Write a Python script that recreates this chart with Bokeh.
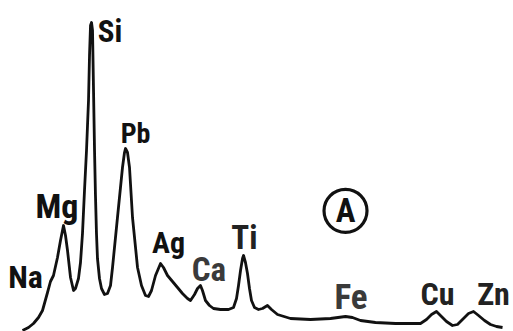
from bokeh.plotting import figure
from bokeh.models import Range1d, ColumnDataSource
from bokeh.core.properties import value
from bokeh.embed import file_html
from bokeh.resources import INLINE

# EDS spectrum: energy (keV) vs intensity (counts, arbitrary)
energy_kev = [0.532, 0.640, 0.729, 0.819, 0.891, 0.981, 1.034, 1.088, 1.160, 1.214,
              1.268, 1.304, 1.340, 1.394, 1.448, 1.483, 1.537, 1.573, 1.609, 1.645,
              1.681, 1.699, 1.717, 1.735, 1.753, 1.771, 1.789, 1.807, 1.825, 1.842,
              1.860, 1.878, 1.914, 1.950, 2.004, 2.058, 2.112, 2.148, 2.237, 2.327,
              2.363, 2.381, 2.417, 2.453, 2.507, 2.597, 2.668, 2.740, 2.794, 2.848,
              2.920, 3.010, 3.063, 3.135, 3.225, 3.315, 3.404, 3.494, 3.548, 3.620,
              3.674, 3.727, 3.763, 3.817, 3.889, 3.961, 4.086, 4.230, 4.320, 4.374,
              4.410, 4.446, 4.482, 4.500, 4.535, 4.571, 4.607, 4.643, 4.697, 4.769,
              4.841, 4.930, 5.002, 5.110, 5.343, 5.702, 6.061, 6.331, 6.456, 6.600,
              6.869, 7.228, 7.677, 7.785, 7.875, 7.964, 8.054, 8.144, 8.251, 8.341,
              8.449, 8.539, 8.629, 8.719, 8.826, 8.934, 9.042, 9.150]
counts = [3, 12, 24, 42, 63, 117, 150, 168, 222, 273,
          318, 288, 243, 162, 123, 129, 159, 207, 294, 423,
          543, 618, 693, 828, 918, 927, 903, 723, 543, 408,
          294, 219, 159, 129, 111, 114, 138, 192, 342, 492,
          537, 549, 537, 492, 342, 192, 138, 108, 105, 123,
          168, 204, 192, 168, 150, 132, 114, 99, 93, 111,
          129, 138, 123, 93, 78, 69, 66, 66, 72, 99,
          138, 183, 219, 228, 207, 174, 129, 93, 72, 66,
          69, 78, 66, 51, 39, 36, 39, 45, 42, 33,
          27, 24, 24, 36, 51, 60, 45, 30, 18, 21,
          39, 54, 60, 48, 33, 21, 15, 12]

# Element labels
elements = ["Na", "Mg", "Si", "Pb", "Ag", "Ca", "Ti", "Fe", "Cu", "Zn"]
label_kev = [0.586, 1.151, 2.103, 2.561, 3.153, 3.880, 4.517, 6.429, 7.982, 8.988]
label_counts = [164, 378, 900, 594, 267, 185, 281, 101, 113, 113]
label_sizes = ["32px", "34px", "31px", "28px", "30px", "33px", "33px", "35px", "32px", "32px"]
label_colors = ["#111111", "#111111", "#111111", "#111111", "#111111", "#3a3a3a",
                "#222222", "#3a3a3a", "#222222", "#222222"]

panel_label = ["A"]
panel_kev = [6.331]
panel_counts = [362]

FONT = value("'Roboto Condensed', 'Liberation Sans Narrow', 'Roboto', sans-serif")

p = figure(width=513, height=331, output_backend="svg", toolbar_location=None,
           x_range=Range1d(0.1369, 9.3468), y_range=Range1d(0, 993),
           min_border=0, outline_line_color=None)
p.axis.visible = False
p.grid.visible = False
p.background_fill_color = "white"
p.border_fill_color = "white"

p.line(energy_kev, counts, line_color="#111111", line_width=2.8, line_join="round")

src = ColumnDataSource(dict(x=label_kev, y=label_counts, t=elements,
                            s=label_sizes, c=label_colors))
p.text(x="x", y="y", text="t", source=src, text_font=FONT, text_font_style="bold",
       text_font_size="s", text_color="c", text_align="center",
       text_baseline="middle")

p.scatter(panel_kev, panel_counts, marker="circle", size=43, fill_color=None,
          line_color="#111111", line_width=3.2)
p.text(panel_kev, panel_counts, text=panel_label, text_font=FONT,
       text_font_style="bold", text_font_size="33px", text_color="#111111",
       text_align="center", text_baseline="middle")

open("out.html", "w").write(file_html(p, INLINE))
